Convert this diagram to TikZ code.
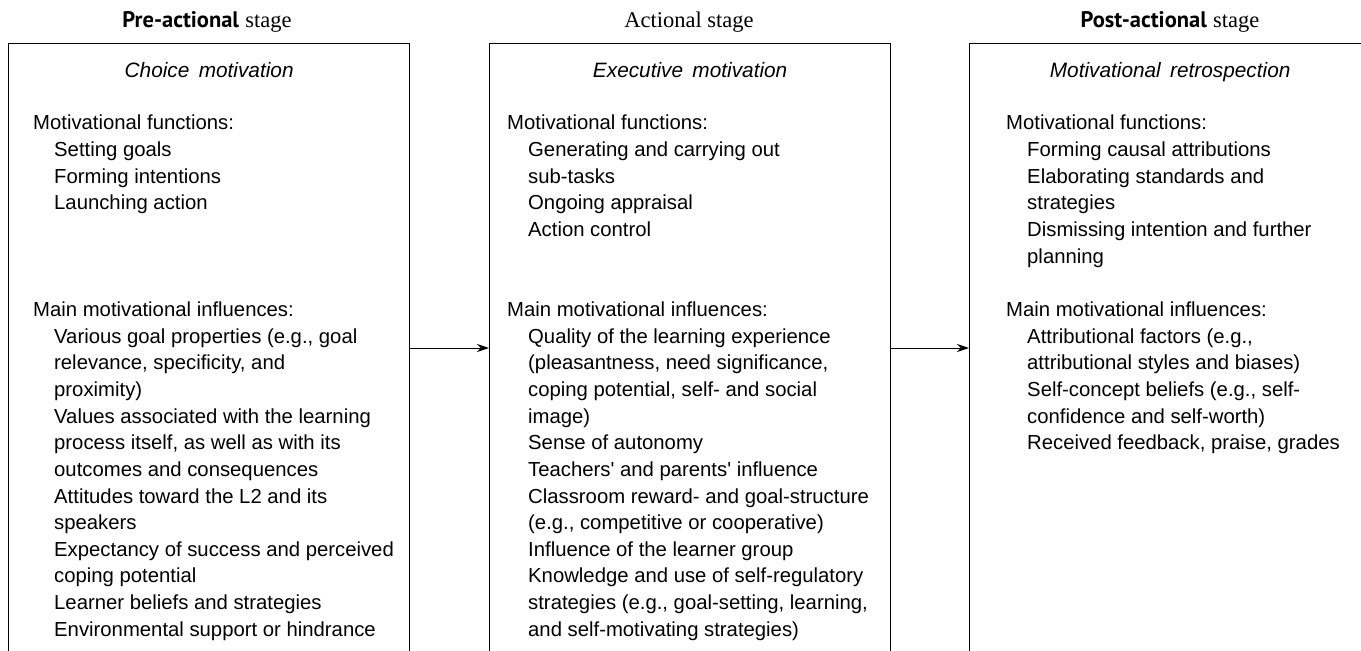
\documentclass[tikz,border=0pt]{standalone}
\usepackage{fontspec}
\setmainfont{Liberation Sans}
\newfontfamily\tnrfont{Liberation Serif}
\newfontfamily\stagefont{PT Sans}
\usetikzlibrary{arrows.meta,calc}
\newcommand{\ind}{\hspace*{21pt}}
\newcommand{\apos}{\textquotesingle}
\begin{document}
\begin{tikzpicture}[x=1pt,y=-1pt,
  box/.style={draw,line width=1.3pt,rectangle,anchor=north west,inner sep=0pt,minimum width=401pt,minimum height=640pt},
  body/.style={anchor=north west,inner sep=0pt,align=left,font=\fontsize{20.3}{26.65}\selectfont},
  ttl/.style={anchor=base,inner sep=0pt,font=\fontsize{20.8}{25}\selectfont\itshape},
  stagelbl/.style={anchor=base,inner sep=0pt,font=\fontsize{22.5}{26}\selectfont},
  flow/.style={line width=1pt,-{Stealth[length=12pt,width=8pt]}}]
\useasboundingbox (0,0) rectangle (1361,651);

% stage labels
\node[stagelbl] (s1) at (207,27) {{\stagefont\bfseries Pre-actional} {\tnrfont stage}};
\node[stagelbl] (s2) at (689,27) {\tnrfont Actional stage};
\node[stagelbl] (s3) at (1170,27) {{\stagefont\bfseries Post-actional} {\tnrfont stage}};

% boxes
\node[box] (b1) at (8,43) {};
\node[box] (b2) at (489,43) {};
\node[box] (b3) at (969,43) {};

% titles
\node[ttl] (t1) at ($(b1.north)+(0,34)$) {Choice\hspace{0.45em}motivation};
\node[ttl] (t2) at ($(b2.north)+(0,34)$) {Executive\hspace{0.45em}motivation};
\node[ttl] (t3) at ($(b3.north)+(0,34)$) {Motivational\hspace{0.45em}retrospection};

% bodies
\node[body] (c1) at ($(b1.north west)+(25,72)$) {Motivational functions:\\
\ind Setting goals\\
\ind Forming intentions\\
\ind Launching action\\
\mbox{}\\
\mbox{}\\
\mbox{}\\
Main motivational influences:\\
\ind Various goal properties (e.g., goal\\
\ind relevance, specificity, and\\
\ind proximity)\\
\ind Values associated with the learning\\
\ind process itself, as well as with its\\
\ind outcomes and consequences\\
\ind Attitudes toward the L2 and its\\
\ind speakers\\
\ind Expectancy of success and perceived\\
\ind coping potential\\
\ind Learner beliefs and strategies\\
\ind Environmental support or hindrance};

\node[body] (c2) at ($(b2.north west)+(18,72)$) {Motivational functions:\\
\ind Generating and carrying out\\
\ind sub-tasks\\
\ind Ongoing appraisal\\
\ind Action control\\
\mbox{}\\
\mbox{}\\
Main motivational influences:\\
\ind Quality of the learning experience\\
\ind (pleasantness, need significance,\\
\ind coping potential, self- and social\\
\ind image)\\
\ind Sense of autonomy\\
\ind Teachers\apos{} and parents\apos{} influence\\
\ind Classroom reward- and goal-structure\\
\ind (e.g., competitive or cooperative)\\
\ind Influence of the learner group\\
\ind Knowledge and use of self-regulatory\\
\ind strategies (e.g., goal-setting, learning,\\
\ind and self-motivating strategies)};

\node[body] (c3) at ($(b3.north west)+(37,72)$) {Motivational functions:\\
\ind Forming causal attributions\\
\ind Elaborating standards and\\
\ind strategies\\
\ind Dismissing intention and further\\
\ind planning\\
\mbox{}\\
Main motivational influences:\\
\ind Attributional factors (e.g.,\\
\ind attributional styles and biases)\\
\ind Self-concept beliefs (e.g., self-\\
\ind confidence and self-worth)\\
\ind Received feedback, praise, grades};

% arrows
\draw[flow] (b1.east |- 0,348) -- (b2.west |- 0,348);
\draw[flow] (b2.east |- 0,348) -- (b3.west |- 0,348);
\end{tikzpicture}
\end{document}
